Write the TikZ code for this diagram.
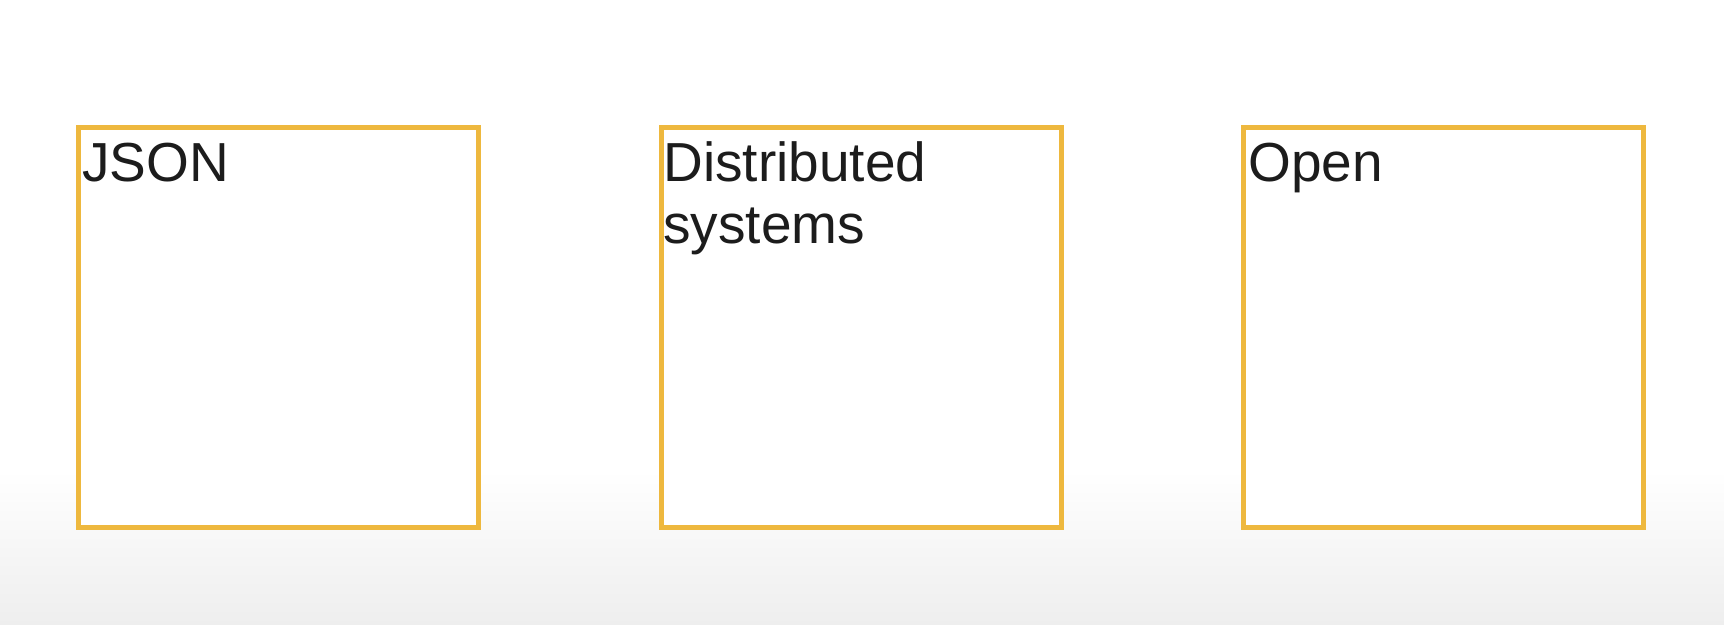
\documentclass[tikz,border=0pt]{standalone}
\usepackage{fontspec}
\setmainfont{Liberation Sans}
\definecolor{boxorange}{RGB}{238,184,62}
\definecolor{txt}{RGB}{28,28,28}
\definecolor{bgbottom}{RGB}{238,238,238}
\tikzset{
  card/.style={draw=boxorange, line width=2.3pt, fill=white, minimum width=200pt, minimum height=200pt, anchor=north west, inner sep=0pt},
  cardtext/.style={anchor=base west, inner sep=0pt, text=txt, font=\fontsize{27.5}{31}\selectfont}
}
\begin{document}
\begin{tikzpicture}[x=0.5pt,y=-0.5pt]
\useasboundingbox (0,0) rectangle (1724,625);
\fill[white] (0,0) rectangle (1724,625);
\shade[top color=white, bottom color=bgbottom] (0,470) rectangle (1724,625);
\node[card] (b1) at (76,125) {};
\node[card] (b2) at (659,125) {};
\node[card] (b3) at (1241,125) {};
\node[cardtext] (t1) at (82,182) {JSON};
\node[cardtext] (t2) at (663,182) {\parbox[t]{150pt}{\raggedright Distributed\\systems}};
\node[cardtext] (t3) at (1248,182) {Open};
\end{tikzpicture}
\end{document}
